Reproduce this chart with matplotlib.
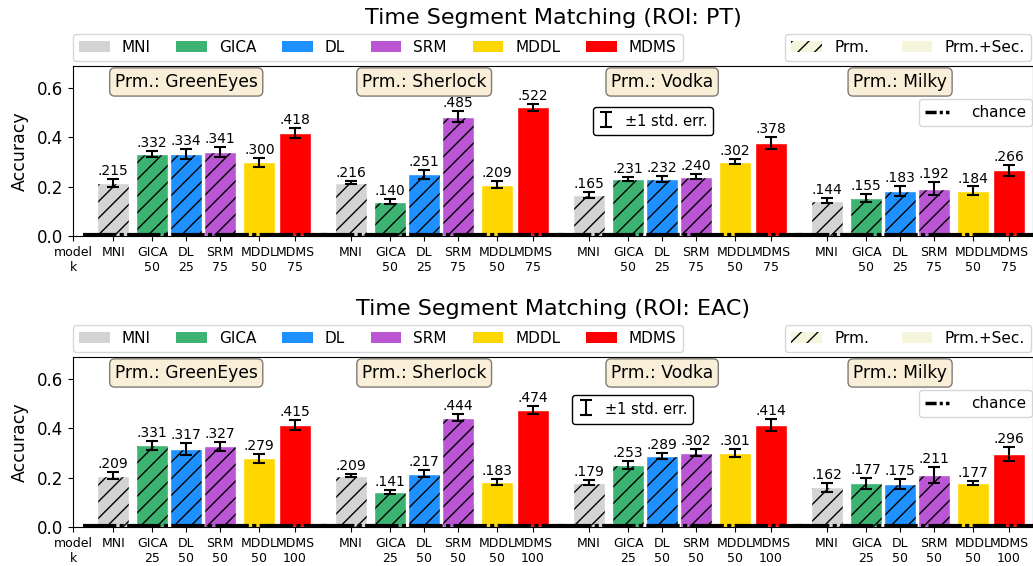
import numpy as np
import matplotlib.pyplot as plt
from matplotlib.patches import Patch
from matplotlib.lines import Line2D

models = ["MNI", "GICA", "DL", "SRM", "MDDL", "MDMS"]
colors = ["lightgray", "mediumseagreen", "dodgerblue", "mediumorchid", "gold", "red"]
hatched = [True, True, True, True, False, False]
datasets = ["GreenEyes", "Sherlock", "Vodka", "Milky"]

# ROI: PT
pt_acc = [[.215, .332, .334, .341, .300, .418],
          [.216, .140, .251, .485, .209, .522],
          [.165, .231, .232, .240, .302, .378],
          [.144, .155, .183, .192, .184, .266]]
pt_err = [[.018, .012, .020, .020, .018, .022],
          [.006, .010, .018, .024, .015, .015],
          [.012, .009, .013, .010, .011, .024],
          [.012, .015, .019, .027, .017, .024]]
pt_k = [["", "50", "25", "75", "50", "75"]] * 4
pt_chance = [0.006, 0.005, 0.006, 0.005]

# ROI: EAC
eac_acc = [[.209, .331, .317, .327, .279, .415],
           [.209, .141, .217, .444, .183, .474],
           [.179, .253, .289, .302, .301, .414],
           [.162, .177, .175, .211, .177, .296]]
eac_err = [[.016, .018, .024, .019, .019, .020],
           [.008, .009, .016, .015, .012, .016],
           [.010, .016, .012, .015, .016, .024],
           [.018, .022, .020, .032, .008, .029]]
eac_k = [["", "25", "50", "50", "50", "100"]] * 4
eac_chance = [0.006, 0.005, 0.006, 0.005]

offsets = [0, 1.15, 2.15, 3.15, 4.3, 5.35]
step = 7
width = 0.95
chance_dash = (3.2, 0.9, 0.9, 0.9)


def draw(ax, acc, err, ks, chance, roi, stderr_pos):
    ticks = [-1.18]
    labels = ["model\nk"]
    for g in range(len(datasets)):
        for m in range(len(models)):
            x = g * step + offsets[m]
            v = acc[g][m]
            e = err[g][m]
            ax.bar(x, v, width, color=colors[m], hatch="//" if hatched[m] else None,
                   edgecolor="black", linewidth=0, zorder=2)
            ax.bar(x, v, width, color="none", edgecolor="white", linewidth=1, zorder=2)
            ax.errorbar(x, v, yerr=e, fmt="none", ecolor="black", capsize=4,
                        elinewidth=1.5, capthick=1.5, zorder=3)
            ax.text(x, v + e + 0.004, f"{v:.3f}"[1:], ha="center", va="bottom", fontsize=10)
            ticks.append(x)
            labels.append(models[m] + ("\n" + ks[g][m] if ks[g][m] else ""))
        x0 = g * step + offsets[0] - 0.9
        x1 = g * step + offsets[-1] + 0.9
        ax.plot([x0, x1], [chance[g], chance[g]], color="black", lw=3,
                dashes=(8, 0.8, 1, 0.8), zorder=4)
        ax.text(g * step + offsets[2], 0.906, "Prm.: " + datasets[g],
                transform=ax.get_xaxis_transform(), ha="center", va="center",
                fontsize=12.3, bbox=dict(boxstyle="round", facecolor="wheat", alpha=0.5))
    ax.set_xticks(ticks)
    ax.set_xticklabels(labels, fontsize=9)
    ax.set_xlim(-1.18, 27.06)
    ax.set_ylim(0, 0.69)
    ax.set_yticks([0, 0.2, 0.4, 0.6])
    ax.set_yticklabels(["0.0", "0.2", "0.4", "0.6"], fontsize=12)
    ax.set_ylabel("Accuracy", fontsize=12.5, labelpad=6)
    ax.set_title(f"Time Segment Matching (ROI: {roi})", fontsize=16, pad=30)

    leg1 = ax.legend([Patch(facecolor=c) for c in colors], models, ncol=6,
                     loc="lower left", bbox_to_anchor=(0, 1.029, 0.635, 0.165),
                     mode="expand", borderaxespad=0, fontsize=11)
    ax.add_artist(leg1)
    leg2 = ax.legend([Patch(facecolor="beige", hatch="//", edgecolor="black", linewidth=0),
                      Patch(facecolor="beige")], ["Prm.", "Prm.+Sec."], ncol=2,
                     loc="lower left", bbox_to_anchor=(0.742, 1.029, 0.256, 0.165),
                     mode="expand", borderaxespad=0, fontsize=11)
    ax.add_artist(leg2)
    leg3 = ax.legend([Line2D([], [], color="black", lw=2.5, dashes=chance_dash)], ["chance"],
                     loc="upper right", bbox_to_anchor=(0.999, 0.806), borderaxespad=0,
                     handlelength=1.6, handletextpad=1.4, fontsize=11)
    ax.add_artist(leg3)
    eb = ax.errorbar([np.nan], [np.nan], yerr=[0.1], fmt="none", ecolor="black",
                     capsize=4, elinewidth=1.5, capthick=1.5)
    ax.legend([eb], ["±1 std. err."], loc="center", bbox_to_anchor=stderr_pos,
              handlelength=1, handleheight=1.4, fontsize=10.5, framealpha=1,
              edgecolor="black")


fig = plt.figure(figsize=(10.33, 5.66), dpi=100)
ax1 = fig.add_axes([0.0707, 0.583, 0.9293, 0.3004])
ax2 = fig.add_axes([0.0707, 0.0689, 0.9293, 0.3004])
draw(ax1, pt_acc, pt_err, pt_k, pt_chance, "PT", (0.604, 0.676))
draw(ax2, eac_acc, eac_err, eac_k, eac_chance, "EAC", (0.583, 0.692))

fig.savefig("out.png", dpi=100)
